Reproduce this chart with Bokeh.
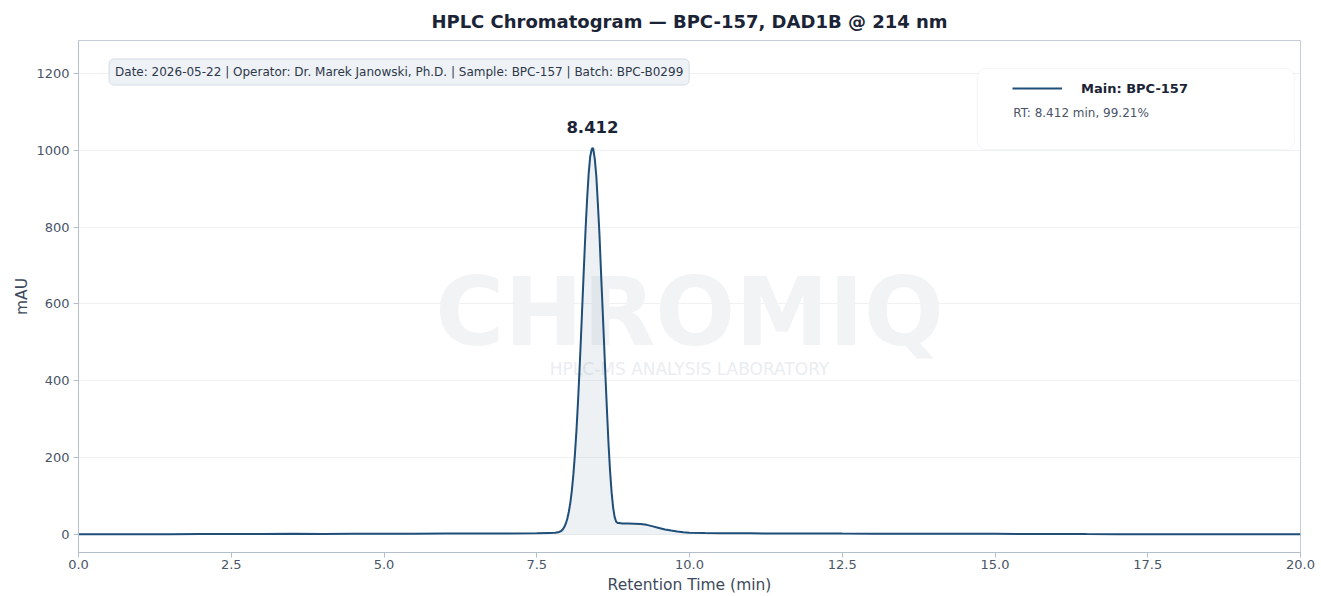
import numpy as np
from bokeh.plotting import figure
from bokeh.models import (Label, BoxAnnotation, Legend, LegendItem, FixedTicker,
                          NumeralTickFormatter, Range1d)
from bokeh.embed import file_html
from bokeh.resources import INLINE

# ---- data ----
time_min = [0.0, 0.5, 1.0, 1.5, 2.0, 2.5, 3.0, 3.5, 4.0, 4.5, 5.0, 5.5, 6.0, 6.5,
            7.0, 7.5, 7.7, 7.8, 7.85, 7.9, 7.925, 7.95, 7.975, 8.0, 8.025, 8.05,
            8.075, 8.1, 8.125, 8.15, 8.175, 8.2, 8.225, 8.25, 8.275, 8.3, 8.325,
            8.35, 8.375, 8.4, 8.412, 8.425, 8.45, 8.475, 8.5, 8.525, 8.55, 8.575,
            8.6, 8.625, 8.65, 8.675, 8.7, 8.725, 8.75, 8.775, 8.8, 8.825, 8.85,
            8.9, 9.0, 9.1, 9.2, 9.3, 9.4, 9.5, 9.6, 9.7, 9.8, 9.9, 10.0,
            10.25, 10.5, 11.0, 11.5, 12.0, 12.5, 13.0, 13.5, 14.0, 14.5, 15.0,
            15.5, 16.0, 16.5, 17.0, 17.5, 18.0, 18.5, 19.0, 19.5, 20.0]
signal_mau = [0.5, 0.3, 0.8, 0.5, 0.9, 1.0, 1.2, 1.5, 1.4, 1.8, 2.0, 2.1, 2.3, 2.2,
              2.5, 3.0, 4.0, 4.5, 5.5, 9.0, 13.0, 19.0, 28.0, 41.0, 59.0, 83.0,
              115.0, 157.0, 209.0, 271.0, 345.0, 428.0, 518.0, 613.0, 707.0, 797.0, 876.0,
              940.0, 984.0, 1003.0, 1006.0, 1004.0, 977.0, 933.0, 862.0, 786.0, 690.0, 598.0,
              505.0, 410.0, 320.0, 235.0, 165.0, 110.0, 70.0, 45.0, 33.0, 30.0, 29.5,
              28.5, 28.5, 28.0, 27.0, 25.0, 21.0, 17.0, 13.0, 10.0, 7.5, 5.5, 4.5,
              3.5, 3.0, 2.8, 2.5, 2.7, 2.2, 2.0, 1.9, 1.8, 1.6, 1.5,
              1.0, 1.2, 0.9, 0.8, 0.6, 0.7, 0.5, 0.4, 0.5, 0.3]
peak_rt = 8.412
peak_height = 1006.0
peak_area_pct = 99.21
fill_window = (7.8, 10.0)
x_ticks = [0.0, 2.5, 5.0, 7.5, 10.0, 12.5, 15.0, 17.5, 20.0]
y_ticks = [0, 200, 400, 600, 800, 1000, 1200]

LINE = "#1f4e79"
FONT = "DejaVu Sans"

p = figure(width=1321, height=596, output_backend="svg", toolbar_location=None,
           x_range=Range1d(0, 20), y_range=Range1d(-47, 1286),
           min_border_left=78, min_border_right=21, min_border_top=40,
           min_border_bottom=44)

p.title.text = "HPLC Chromatogram \u2014 BPC-157, DAD1B @ 214 nm"
p.title.align = "center"
p.title.text_font = FONT
p.title.text_font_size = "18px"
p.title.text_font_style = "bold"
p.title.text_color = "#1b2436"
p.title.standoff = 17

p.outline_line_color = "#c4ccd8"
p.background_fill_color = "white"
p.border_fill_color = "white"

p.xgrid.visible = False
p.ygrid.grid_line_color = "#f0f1f3"
p.ygrid.grid_line_width = 1
p.ygrid.ticker = FixedTicker(ticks=y_ticks)

for ax in (p.xaxis[0], p.yaxis[0]):
    ax.axis_line_color = "#b4bfcc"
    ax.major_tick_line_color = "#b4bfcc"
    ax.minor_tick_line_color = None
    ax.major_tick_out = 5
    ax.major_tick_in = 0
    ax.major_label_text_font = FONT
    ax.major_label_text_font_size = "13px"
    ax.major_label_text_color = "#4a5568"
    ax.axis_label_text_font = FONT
    ax.axis_label_text_font_size = "15.5px"
    ax.axis_label_text_font_style = "normal"
    ax.axis_label_text_color = "#3d4a5c"

p.xaxis.ticker = FixedTicker(ticks=x_ticks)
p.xaxis.formatter = NumeralTickFormatter(format="0.0")
p.xaxis.axis_label = "Retention Time (min)"
p.xaxis.major_label_standoff = 2
p.xaxis.axis_label_standoff = 4
p.yaxis.ticker = FixedTicker(ticks=y_ticks)
p.yaxis.axis_label = "mAU"
p.yaxis.major_label_standoff = 4
p.yaxis.axis_label_standoff = 2

# watermark
wm = Label(x=10.0, y=578, text="CHROMIQ", text_font=FONT, text_font_size="94px",
           text_font_style="bold", text_color="#f2f3f5", text_align="center",
           text_baseline="middle", level="underlay")
wm2 = Label(x=10.0, y=432, text="HPLC-MS ANALYSIS LABORATORY", text_font=FONT,
            text_font_size="17px", text_color="#eaedf1", text_align="center",
            text_baseline="middle", level="underlay")
p.add_layout(wm)
p.add_layout(wm2)

t = np.array(time_min)
s = np.array(signal_mau)
mask = (t >= fill_window[0]) & (t <= fill_window[1])
p.varea(x=t[mask], y1=0, y2=s[mask], fill_color=LINE, fill_alpha=0.08)
main = p.line(t, s, line_color=LINE, line_width=2)

# peak label
p.add_layout(Label(x=peak_rt, y=peak_height, y_offset=15, text=f"{peak_rt:.3f}",
                   text_font=FONT, text_font_size="16.5px", text_font_style="bold",
                   text_color="#1b2436", text_align="center", text_baseline="bottom"))

# info box
p.add_layout(Label(x=0.5, y=1204,
                   text="Date: 2026-05-22 | Operator: Dr. Marek Janowski, Ph.D. | Sample: BPC-157 | Batch: BPC-B0299",
                   text_font=FONT, text_font_size="12px", text_color="#2d3748",
                   text_align="left", text_baseline="middle", padding=6,
                   border_radius=5, background_fill_color="#eef2f7",
                   border_line_color="#d3dbe6"))

# legend panel
p.add_layout(BoxAnnotation(left=14.71, right=19.90, bottom=1002, top=1213,
                           fill_color="white", fill_alpha=1.0,
                           line_color="#d8dee8", line_width=1, border_radius=9))
leg = Legend(items=[LegendItem(label="Main: BPC-157", renderers=[main])],
             location=(934, 454), padding=0, margin=0, border_line_color=None,
             background_fill_alpha=0, glyph_width=50, label_standoff=19,
             label_text_font=FONT, label_text_font_size="13px",
             label_text_font_style="bold", label_text_color="#1b2436")
p.add_layout(leg)
p.add_layout(Label(x=15.30, y=1096, text=f"RT: {peak_rt:.3f} min, {peak_area_pct:.2f}%",
                   text_font=FONT, text_font_size="12px", text_color="#4a5568",
                   text_align="left", text_baseline="middle"))

open("out.html", "w").write(file_html(p, INLINE))
